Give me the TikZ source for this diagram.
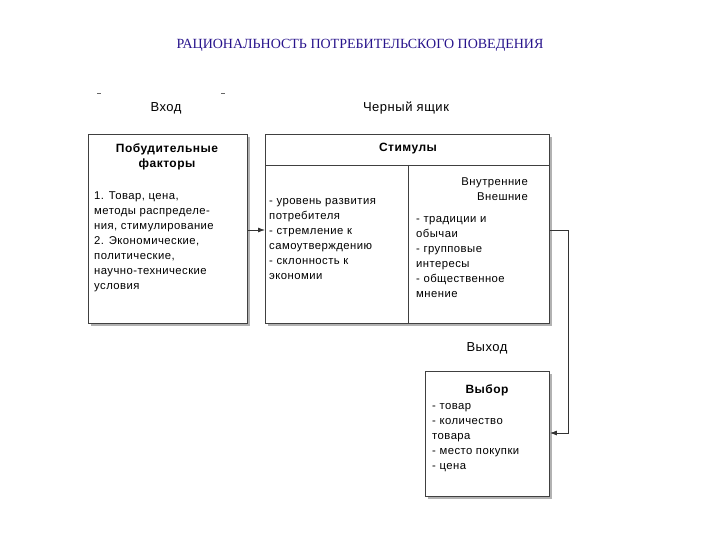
\documentclass[tikz,border=0pt]{standalone}
\usepackage{fontspec}
\usetikzlibrary{arrows.meta}
\setmainfont{Liberation Sans}
\newfontfamily\serifru{Liberation Serif}
\newfontfamily\spaced{Liberation Sans}[LetterSpace=4]
\definecolor{ttl}{RGB}{40,20,140}
\begin{document}
\begin{tikzpicture}[x=1pt,y=-1pt,
 box/.style={draw=black!75,line width=0.9pt},
 shadow/.style={draw=black!30,line width=2.5pt},
 txt/.style={anchor=north west,align=left,font=\spaced\fontsize{11.3}{15}\selectfont,inner sep=0pt},
 lbl/.style={font=\spaced\fontsize{13}{15}\selectfont},
 hd/.style={font=\spaced\bfseries\fontsize{12}{15}\selectfont,align=center},
 conn/.style={draw=black!80,line width=0.8pt},
 >={Latex[length=7pt,width=5pt]}]
\useasboundingbox (0,0) rectangle (720,540);
\node[font=\serifru\fontsize{14}{16}\selectfont,text=ttl] (title) at (360,45) {РАЦИОНАЛЬНОСТЬ ПОТРЕБИТЕЛЬСКОГО ПОВЕДЕНИЯ};
\draw[black!60,line width=1pt] (97,94)--(101,94) (221,94)--(225,94);
\node[lbl] (vh) at (166,108) {Вход};
\node[lbl] (bb) at (406,108) {Черный ящик};
\node[lbl] (vy) at (487,348) {Выход};
% shadows
\draw[shadow] (91,325)--(249,325)--(249,137);
\draw[shadow] (268,325)--(551,325)--(551,137);
\draw[shadow] (428,498)--(551,498)--(551,374);
% boxes
\node[box,fill=white,minimum width=159,minimum height=189,anchor=north west,inner sep=0] (L) at (88,134) {};
\node[box,fill=white,minimum width=284,minimum height=189,anchor=north west,inner sep=0] (M) at (265,134) {};
\node[box,fill=white,minimum width=124,minimum height=125,anchor=north west,inner sep=0] (O) at (425,371) {};
\draw[box] (265,165)--(549,165);
\draw[box] (408,165)--(408,323);
\node[hd] (lh) at (167,157) {Побудительные\\факторы};
\node[txt] (lt) at (94,192) {1. Товар, цена,\\методы распределе-\\ния, стимулирование\\2. Экономические,\\политические,\\научно-технические\\условия};
\node[hd] (mh) at (408,149) {Стимулы};
\node[txt] (mt) at (269,198) {- уровень развития\\потребителя\\- стремление к\\самоутверждению\\- склонность к\\экономии};
\node[txt,align=right,anchor=north east] (rh) at (528,178) {Внутренние\\Внешние};
\node[txt] (rt) at (416,216) {- традиции и\\обычаи\\- групповые\\интересы\\- общественное\\мнение};
\node[hd] (oh) at (487,390) {Выбор};
\node[txt] (ot) at (432,403) {- товар\\- количество\\товара\\- место покупки\\- цена};
\draw[conn,->] (L.east|-0,230) -- (M.west|-0,230);
\coordinate (c1) at (568,230);
\coordinate (c2) at (568,433);
\draw[conn,->] (M.east|-0,230) -- (c1) -- (c2) -- (O.east|-c2);
\end{tikzpicture}
\end{document}
